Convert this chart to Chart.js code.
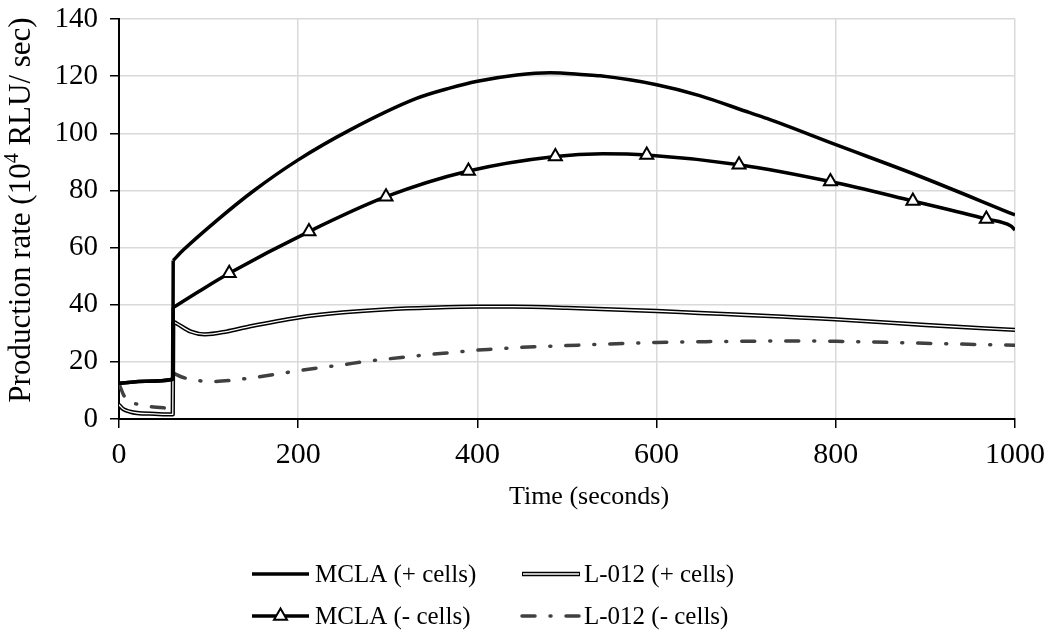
<!DOCTYPE html>
<html><head><meta charset="utf-8">
<script src="https://cdn.jsdelivr.net/npm/chart.js@4.4.0/dist/chart.umd.min.js"></script>
<style>html,body{margin:0;padding:0;background:#fff}canvas{display:block}</style>
</head><body>
<canvas id="c" width="1056" height="642"></canvas>
<script>
// ---- data (time in seconds, production rate in 10^4 RLU/sec) ----
const xTickValues = [0, 200, 400, 600, 800, 1000];
const yTickValues = [0, 20, 40, 60, 80, 100, 120, 140];
const jumpTime = 60.5; // top of the step when cells/probe are added

const mclaPlusT = [0, 30, 60, 60.5, 72, 110, 150, 200, 258, 332, 369, 400, 444, 481, 520, 537, 600, 648, 704, 723, 800, 890, 1000];
const mclaPlusV = [12.5, 13.2, 13.9, 55.5, 59.2, 69.7, 79.8, 90.7, 101.2, 112.2, 115.8, 118.2, 120.4, 121.2, 120.5, 120.1, 117.0, 113.2, 107.2, 105.2, 96.0, 85.4, 71.4];

const mclaMinusT = [0, 30, 60, 60.5, 90, 123, 212, 298, 390, 487, 540, 589, 692, 794, 886, 968, 995, 1000];
const mclaMinusV = [12.5, 13.2, 13.9, 39.0, 44.8, 51.0, 65.6, 77.8, 86.8, 91.9, 92.8, 92.4, 89.0, 83.1, 76.3, 70.0, 67.6, 66.2];
const mclaMinusMarkerT = [123, 212, 298, 390, 487, 589, 692, 794, 886, 968];

const l012PlusT = [0, 5, 12, 20, 40, 60, 60.5, 64, 80, 96, 120, 146, 200, 250, 299, 350, 400, 440, 500, 600, 648, 700, 760, 800, 900, 1000];
const l012PlusV = [5.0, 3.4, 2.6, 2.1, 1.8, 1.6, 34.0, 33.5, 30.6, 29.6, 30.6, 32.4, 35.5, 37.3, 38.4, 39.0, 39.3, 39.3, 38.9, 37.8, 37.1, 36.4, 35.5, 34.9, 32.9, 31.2];

const l012MinusT = [0, 5, 10, 20, 35, 50, 60, 60.5, 70, 80, 103, 127, 152, 176, 200, 225, 248, 274, 299, 323, 347, 372, 396, 420, 444, 500, 600, 700, 750, 800, 886, 1000];
const l012MinusV = [12.3, 8.5, 6.2, 5.2, 4.3, 3.9, 3.8, 16.1, 14.7, 13.9, 13.1, 13.6, 14.6, 15.7, 16.9, 18.0, 18.9, 20.1, 21.0, 21.8, 22.6, 23.3, 24.0, 24.5, 25.0, 25.7, 26.8, 27.2, 27.3, 27.2, 26.6, 25.8];

const seriesNames = ['MCLA (+ cells)', 'L-012 (+ cells)', 'MCLA (- cells)', 'L-012 (- cells)'];
const xTitle = 'Time (seconds)';
const yTitleParts = ['Production rate (10', '4', ' RLU/ sec)'];

// ---- styling ----
const FONT = '"Liberation Serif", "Times New Roman", serif';
const FS_XTICK = 30, FS_YTICK = 29, FS_XTITLE = 26, FS_YTITLE = 31, FS_LEGEND = 25;
const GRID = '#d9d9d9';
const DASHDOT = [13, 15, 1, 15];
const GRAYLINE = '#404040';

function pts(ts, vs) { return ts.map((t, i) => ({x: t, y: vs[i]})); }
// split a series into the part up to the top of the step and the part after it
function parts(ts, vs) {
  const k = ts.indexOf(jumpTime);
  const all = pts(ts, vs);
  return [all.slice(0, k + 1), all.slice(k)];
}

const lineBase = {fill: false, pointRadius: 0, pointHoverRadius: 0, cubicInterpolationMode: 'monotone', borderJoinStyle: 'round'};
const datasets = [];
function addSeries(label, ts, vs, style, order) {
  parts(ts, vs).forEach((d, i) => {
    datasets.push(Object.assign({}, lineBase, style, {label: label + (i ? ' b' : ' a'), data: d, order}));
  });
}
addSeries(seriesNames[0], mclaPlusT, mclaPlusV, {borderColor: '#000', borderWidth: 3.5}, 0);
addSeries(seriesNames[2], mclaMinusT, mclaMinusV, {borderColor: '#000', borderWidth: 3.5,
  pointStyle: 'triangle', pointBackgroundColor: '#fff', pointBorderColor: '#000', pointBorderWidth: 2,
  pointRadius: (c) => (c.raw && mclaMinusMarkerT.includes(c.raw.x)) ? 7.5 : 0}, 1);
addSeries(seriesNames[1] + ' core', l012PlusT, l012PlusV, {borderColor: '#fff', borderWidth: 1.3}, 2);
addSeries(seriesNames[1], l012PlusT, l012PlusV, {borderColor: '#000', borderWidth: 4.3}, 3);
addSeries(seriesNames[3], l012MinusT, l012MinusV, {borderColor: GRAYLINE, borderWidth: 3.5, borderDash: DASHDOT, borderCapStyle: 'round'}, 4);

function drawTri(ctx, x, y, r) {
  ctx.save();
  ctx.beginPath();
  ctx.moveTo(x, y - r);
  ctx.lineTo(x + r * Math.sin(2 * Math.PI / 3), y - r * Math.cos(2 * Math.PI / 3));
  ctx.lineTo(x + r * Math.sin(4 * Math.PI / 3), y - r * Math.cos(4 * Math.PI / 3));
  ctx.closePath();
  ctx.fillStyle = '#fff'; ctx.fill();
  ctx.lineWidth = 2; ctx.strokeStyle = '#000'; ctx.stroke();
  ctx.restore();
}

function sample(ctx, kind, x1, x2, y) {
  ctx.save();
  ctx.beginPath(); ctx.moveTo(x1, y); ctx.lineTo(x2, y);
  if (kind === 'solid' || kind === 'tri') {
    ctx.strokeStyle = '#000'; ctx.lineWidth = 3.5; ctx.stroke();
    if (kind === 'tri') drawTri(ctx, (x1 + x2) / 2, y, 7.5);
  } else if (kind === 'double') {
    ctx.strokeStyle = '#000'; ctx.lineWidth = 4.3; ctx.stroke();
    ctx.beginPath(); ctx.moveTo(x1 + 1, y); ctx.lineTo(x2 - 1, y);
    ctx.strokeStyle = '#fff'; ctx.lineWidth = 1.3; ctx.stroke();
  } else {
    ctx.strokeStyle = GRAYLINE; ctx.lineWidth = 3.5; ctx.lineCap = 'round';
    ctx.setLineDash(DASHDOT); ctx.stroke();
  }
  ctx.restore();
}

const overlay = {
  id: 'overlay',
  afterDraw(chart) {
    const ctx = chart.ctx;
    ctx.save();
    ctx.fillStyle = '#000';
    ctx.textBaseline = 'middle';
    // x title
    ctx.font = FS_XTITLE + 'px ' + FONT;
    ctx.textAlign = 'center';
    ctx.fillText(xTitle, 589, 497);
    // y title with superscript
    const mainFont = FS_YTITLE + 'px ' + FONT;
    const supFont = Math.round(FS_YTITLE * 0.65) + 'px ' + FONT;
    ctx.font = mainFont; const w0 = ctx.measureText(yTitleParts[0]).width; const w2 = ctx.measureText(yTitleParts[2]).width;
    ctx.font = supFont; const w1 = ctx.measureText(yTitleParts[1]).width;
    const tot = w0 + w1 + w2;
    ctx.translate(22, 210);
    ctx.rotate(-Math.PI / 2);
    ctx.textAlign = 'left';
    let x = -tot / 2;
    ctx.font = mainFont; ctx.fillText(yTitleParts[0], x, 0); x += w0;
    ctx.font = supFont; ctx.fillText(yTitleParts[1], x, -FS_YTITLE * 0.3); x += w1;
    ctx.font = mainFont; ctx.fillText(yTitleParts[2], x, 0);
    ctx.restore();

    // legend
    ctx.save();
    ctx.font = FS_LEGEND + 'px ' + FONT;
    ctx.fillStyle = '#000';
    ctx.textBaseline = 'middle';
    ctx.textAlign = 'left';
    const items = [
      {k: 'solid', x1: 252, x2: 309, tx: 315, y: 574, t: seriesNames[0]},
      {k: 'double', x1: 522, x2: 580, tx: 584, y: 574, t: seriesNames[1]},
      {k: 'tri', x1: 252, x2: 309, tx: 315, y: 616, t: seriesNames[2]},
      {k: 'dashdot', x1: 522, x2: 580, tx: 584, y: 616, t: seriesNames[3]}
    ];
    items.forEach(it => {
      sample(ctx, it.k, it.x1, it.x2, it.y);
      ctx.fillText(it.t, it.tx, it.y + 1);
    });
    ctx.restore();
  }
};

new Chart(document.getElementById('c'), {
  type: 'line',
  data: {datasets},
  options: {
    responsive: false,
    devicePixelRatio: 1,
    animation: false,
    events: [],
    layout: {padding: {top: 19, right: 41, left: 0, bottom: 0}},
    plugins: {legend: {display: false}, tooltip: {enabled: false}},
    scales: {
      x: {
        type: 'linear', min: 0, max: 1000,
        afterBuildTicks: (s) => { s.ticks = xTickValues.map(v => ({value: v})); },
        afterFit: (s) => { s.height = 223; s.paddingLeft = 0; s.paddingRight = 0; },
        ticks: {color: '#000', font: {family: FONT, size: FS_XTICK}, padding: 9, maxRotation: 0, callback: (v) => String(v)},
        grid: {color: GRID, lineWidth: 1.5, tickColor: '#000', tickWidth: 1.5, tickLength: 9, drawTicks: true},
        border: {color: '#000', width: 2}
      },
      y: {
        type: 'linear', min: 0, max: 140,
        afterBuildTicks: (s) => { s.ticks = yTickValues.map(v => ({value: v})); },
        afterFit: (s) => { s.width = 119; s.paddingTop = 0; s.paddingBottom = 0; },
        ticks: {color: '#000', font: {family: FONT, size: FS_YTICK}, padding: 12, callback: (v) => String(v)},
        grid: {color: GRID, lineWidth: 1.5, tickColor: '#000', tickWidth: 1.5, tickLength: 9, drawTicks: true},
        border: {color: '#000', width: 2}
      }
    }
  },
  plugins: [overlay]
});
</script>
</body></html>
